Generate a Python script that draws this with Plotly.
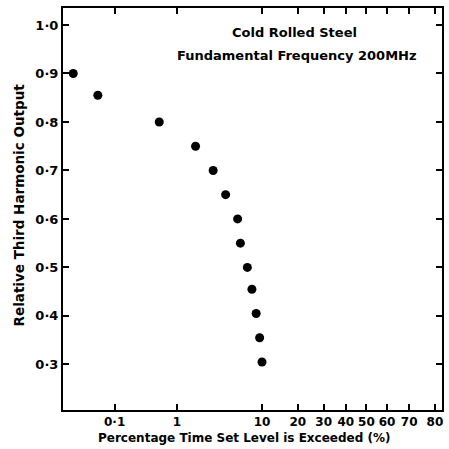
import plotly.graph_objects as go
from statistics import NormalDist

# Data
pct_exceeded = [0.016, 0.049, 0.55, 1.8, 3.0, 4.2, 5.7, 6.1, 7.2, 8.0, 8.8, 9.5, 10.0]
rel_output = [0.90, 0.855, 0.80, 0.75, 0.70, 0.65, 0.60, 0.55, 0.50, 0.455, 0.405, 0.355, 0.305]

x_tick_pct = [0.1, 1, 10, 20, 30, 40, 50, 60, 70, 80]
x_tick_text = ["0·1", "1", "10", "20", "30", "40", "50", "60", "70", "80"]
y_tick_vals = [0.3, 0.4, 0.5, 0.6, 0.7, 0.8, 0.9, 1.0]
y_tick_text = ["0·3", "0·4", "0·5", "0·6", "0·7", "0·8", "0·9", "1·0"]

nd = NormalDist()
def probit(p):
    return nd.inv_cdf(p / 100.0)

xz = [probit(p) for p in pct_exceeded]
tick_z = [probit(p) for p in x_tick_pct]

FONT = "DejaVu Sans"
fig = go.Figure()
fig.add_trace(go.Scatter(
    x=xz, y=rel_output, mode="markers",
    marker=dict(color="black", size=9),
    showlegend=False, hoverinfo="skip"))

fig.update_layout(
    width=449, height=449,
    margin=dict(l=63, r=5, t=8, b=39),
    paper_bgcolor="white", plot_bgcolor="white",
    font=dict(family=FONT, color="black", size=12, weight="bold"),
    xaxis=dict(
        range=[-3.724, 0.928],
        tickvals=tick_z, ticktext=x_tick_text,
        ticks="inside", ticklen=6, tickwidth=2, tickcolor="black",
        showline=True, linewidth=2, linecolor="black", mirror="ticks",
        showgrid=False, zeroline=False,
        tickfont=dict(family=FONT, size=12, weight="bold"),
    ),
    yaxis=dict(
        range=[0.206, 1.035],
        tickvals=y_tick_vals, ticktext=y_tick_text,
        ticks="inside", ticklen=6, tickwidth=2, tickcolor="black",
        showline=True, linewidth=2, linecolor="black", mirror="ticks",
        showgrid=False, zeroline=False,
        tickfont=dict(family=FONT, size=13, weight="bold"),
    ),
    annotations=[
        dict(text="Cold Rolled Steel", x=0.612, y=0.938, xref="paper", yref="paper",
             xanchor="center", yanchor="middle",
             showarrow=False, font=dict(family=FONT, size=13, weight="bold")),
        dict(text="Fundamental Frequency 200MHz", x=0.617, y=0.883, xref="paper", yref="paper",
             xanchor="center", yanchor="middle",
             showarrow=False, font=dict(family=FONT, size=13, weight="bold")),
        dict(text="Percentage Time Set Level is Exceeded (%)", x=0.48, y=-0.07,
             xref="paper", yref="paper", showarrow=False,
             xanchor="center", yanchor="middle",
             font=dict(family=FONT, size=12, weight="bold")),
        dict(text="Relative Third Harmonic Output", x=-0.115, y=0.51,
             xref="paper", yref="paper", showarrow=False, textangle=-90,
             xanchor="center", yanchor="middle",
             font=dict(family=FONT, size=13.5, weight="bold")),
    ],
)

fig.write_html("out.html")
